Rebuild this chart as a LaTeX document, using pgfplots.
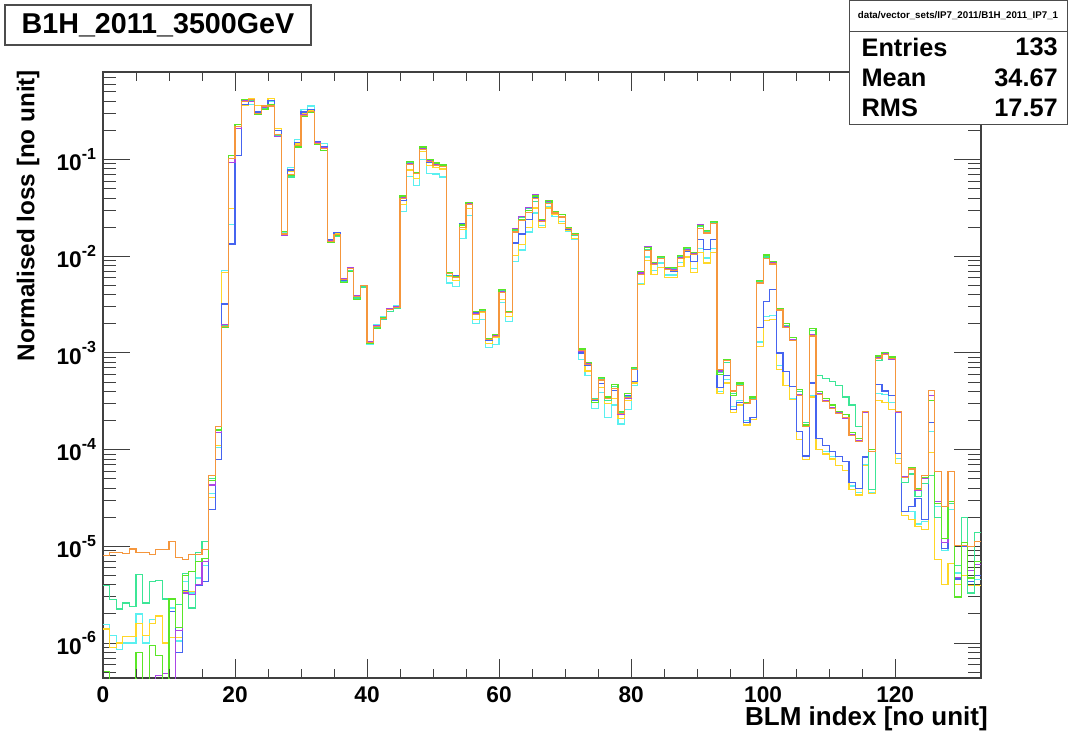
\documentclass[border=0pt]{standalone}
\usepackage{fontspec}
\setmainfont{Liberation Sans}
\usepackage{pgfplots}
\usepackage{pgfplotstable}
\pgfplotsset{compat=1.18}

\definecolor{cO}{RGB}{245,150,60}
\definecolor{cB}{RGB}{70,100,240}
\definecolor{cC}{RGB}{90,240,240}
\definecolor{cY}{RGB}{255,215,40}
\definecolor{cS}{RGB}{60,230,150}
\definecolor{cG}{RGB}{90,230,40}
\definecolor{cP}{RGB}{170,70,230}

\newcommand{\tl}[1]{10\raisebox{0.5em}{\fontsize{12}{12}\selectfont\bfseries #1}}

\pgfplotstableread{
x O B C Y S G P
0 8.1e-6 3e-7 1.57e-6 1.4e-6 3.9e-6 5.1e-7 3e-7
1 8.6e-6 3e-7 1.2e-6 9e-7 2.8e-6 3e-7 3e-7
2 8.6e-6 3e-7 8.6e-7 1.0e-6 2.25e-6 3e-7 3e-7
3 8.5e-6 3e-7 1.0e-6 1.16e-6 2.6e-6 3e-7 3e-7
4 9.4e-6 3e-7 1.0e-6 1.16e-6 2.4e-6 3e-7 3e-7
5 8.7e-6 3e-7 2.0e-6 1.6e-6 5.1e-6 8e-7 3e-7
6 8.7e-6 3e-7 1.0e-6 1.2e-6 2.6e-6 3e-7 3e-7
7 8.3e-6 3e-7 1.75e-6 1.6e-6 4.3e-6 9.5e-7 3e-7
8 9.3e-6 3e-7 1.9e-6 1.9e-6 4.4e-6 7.5e-7 4.6e-7
9 9.3e-6 3e-7 1.0e-6 1.0e-6 2.85e-6 3e-7 4.8e-7
10 1.13e-5 2.1e-6 2.3e-6 1.15e-6 2.85e-6 2.85e-6 3e-7
11 7.7e-6 8e-7 1.05e-6 1.15e-6 2.5e-6 1.45e-6 1.35e-6
12 7.3e-6 3.5e-6 4.3e-6 3.4e-6 5.2e-6 5.0e-6 3.3e-6
13 8.2e-6 3.2e-6 3.3e-6 3.4e-6 2.3e-6 5.5e-6 3.2e-6
14 8.2e-6 3.9e-6 4.7e-6 4.0e-6 8.7e-6 7.0e-6 4.0e-6
15 9.3e-6 4.3e-6 6.3e-6 4.3e-6 1.13e-5 7.5e-6 7.0e-6
16 5.4e-5 2.4e-5 3.5e-5 3.2e-5 5.0e-5 4.8e-5 4.3e-5
17 1.73e-4 7.9e-5 1.05e-4 1.1e-4 1.6e-4 1.6e-4 1.5e-4
18 1.87e-3 3.2e-3 7.1e-3 6.8e-3 1.9e-3 1.85e-3 1.95e-3
19 0.102 0.0134 0.0213 0.031 0.11 0.11 0.093
20 0.22 0.11 0.11 0.11 0.22 0.23 0.21
21 0.40 0.37 0.36 0.36 0.41 0.42 0.41
22 0.42 0.40 0.37 0.43 0.41 0.42 0.40
23 0.30 0.31 0.29 0.36 0.30 0.29 0.295
24 0.357 0.36 0.35 0.36 0.34 0.33 0.35
25 0.357 0.41 0.40 0.43 0.36 0.37 0.365
26 0.18 0.2 0.2 0.21 0.175 0.18 0.172
27 0.017 0.0165 0.0175 0.017 0.0172 0.018 0.0165
28 0.07 0.078 0.082 0.075 0.066 0.068 0.069
29 0.139 0.15 0.16 0.145 0.133 0.135 0.137
30 0.288 0.31 0.33 0.30 0.29 0.28 0.29
31 0.313 0.33 0.357 0.32 0.31 0.305 0.315
32 0.147 0.155 0.15 0.15 0.142 0.142 0.15
33 0.13 0.135 0.147 0.135 0.125 0.125 0.132
34 0.0142 0.0150 0.0145 0.0145 0.0138 0.0138 0.0145
35 0.0167 0.0175 0.0172 0.017 0.0162 0.0163 0.0165
36 5.8e-3 5.6e-3 5.9e-3 5.9e-3 5.5e-3 5.4e-3 5.9e-3
37 7.5e-3 7.6e-3 7.0e-3 7.4e-3 7.1e-3 7.0e-3 7.6e-3
38 3.85e-3 3.6e-3 3.6e-3 3.8e-3 3.7e-3 3.6e-3 3.9e-3
39 4.97e-3 4.97e-3 5.0e-3 4.9e-3 4.8e-3 5.0e-3 5.0e-3
40 1.29e-3 1.26e-3 1.22e-3 1.3e-3 1.27e-3 1.25e-3 1.3e-3
41 1.87e-3 1.9e-3 1.95e-3 1.85e-3 1.83e-3 1.8e-3 1.9e-3
42 2.28e-3 2.3e-3 2.4e-3 2.3e-3 2.2e-3 2.3e-3 2.3e-3
43 2.8e-3 2.85e-3 2.9e-3 2.8e-3 2.7e-3 2.8e-3 2.85e-3
44 2.96e-3 3.0e-3 3.1e-3 3.0e-3 2.9e-3 2.95e-3 3.0e-3
45 0.0394 0.038 0.029 0.034 0.041 0.042 0.040
46 0.0887 0.09 0.067 0.078 0.093 0.095 0.09
47 0.0716 0.072 0.054 0.064 0.074 0.074 0.073
48 0.128 0.13 0.10 0.12 0.135 0.135 0.13
49 0.096 0.094 0.072 0.087 0.10 0.10 0.097
50 0.087 0.088 0.071 0.082 0.09 0.092 0.088
51 0.084 0.087 0.066 0.08 0.086 0.088 0.085
52 6.6e-3 6.8e-3 5.3e-3 6.2e-3 6.3e-3 6.7e-3 6.7e-3
53 6.0e-3 6.3e-3 4.9e-3 5.6e-3 6.2e-3 6.1e-3 6.1e-3
54 0.02 0.022 0.0152 0.019 0.021 0.021 0.020
55 0.034 0.036 0.0265 0.031 0.035 0.036 0.035
56 2.5e-3 2.6e-3 2.0e-3 2.2e-3 2.5e-3 2.7e-3 2.55e-3
57 2.69e-3 2.8e-3 2.2e-3 2.6e-3 2.75e-3 2.8e-3 2.7e-3
58 1.37e-3 1.35e-3 1.14e-3 1.25e-3 1.4e-3 1.42e-3 1.38e-3
59 1.48e-3 1.55e-3 1.22e-3 1.45e-3 1.5e-3 1.55e-3 1.5e-3
60 4.24e-3 4.4e-3 3.3e-3 3.6e-3 4.4e-3 4.5e-3 4.3e-3
61 2.6e-3 2.7e-3 2.1e-3 2.4e-3 2.65e-3 2.7e-3 2.65e-3
62 0.0178 0.0137 8.9e-3 0.0102 0.0185 0.019 0.0195
63 0.0234 0.017 0.0116 0.0132 0.025 0.024 0.026
64 0.0286 0.024 0.0178 0.0197 0.031 0.03 0.032
65 0.0394 0.04 0.028 0.0316 0.037 0.042 0.043
66 0.0229 0.023 0.0208 0.02 0.024 0.024 0.0235
67 0.035 0.036 0.0323 0.0316 0.036 0.038 0.037
68 0.028 0.029 0.0256 0.027 0.029 0.029 0.029
69 0.0255 0.026 0.023 0.022 0.026 0.027 0.026
70 0.0192 0.019 0.018 0.0185 0.0195 0.020 0.0198
71 0.0167 0.0168 0.015 0.0152 0.0165 0.0172 0.0168
72 1.05e-3 1.0e-3 8.5e-4 1.0e-3 1.08e-3 1.1e-3 1.04e-3
73 7.66e-4 7.4e-4 5.9e-4 6.5e-4 7.8e-4 8.0e-4 7.7e-4
74 3.3e-4 3.2e-4 2.65e-4 3.3e-4 3.4e-4 3.1e-4 3.3e-4
75 5.26e-4 4.8e-4 3.9e-4 4.4e-4 5.4e-4 5.6e-4 5.2e-4
76 3.4e-4 3.5e-4 2.14e-4 3.0e-4 3.2e-4 3.5e-4 3.4e-4
77 4.3e-4 4.1e-4 2.9e-4 3.4e-4 4.5e-4 4.7e-4 4.3e-4
78 2.35e-4 2.3e-4 1.84e-4 2.1e-4 2.4e-4 2.5e-4 2.3e-4
79 3.45e-4 3.6e-4 2.6e-4 3.2e-4 3.5e-4 3.8e-4 3.4e-4
80 6.8e-4 5.1e-4 4.6e-4 4.9e-4 7.0e-4 7.1e-4 6.8e-4
81 6.5e-3 6.6e-3 5.2e-3 5.1e-3 6.8e-3 6.9e-3 6.7e-3
82 0.0114 0.0118 9.8e-3 9.0e-3 0.0118 0.0124 0.0125
83 8.2e-3 8.5e-3 7.1e-3 6.5e-3 8.6e-3 8.6e-3 8.4e-3
84 9.4e-3 9.6e-3 8.5e-3 7.7e-3 9.8e-3 0.01 9.9e-3
85 7.3e-3 7.5e-3 6.4e-3 6.0e-3 7.6e-3 7.7e-3 7.5e-3
86 7.1e-3 7.0e-3 6.4e-3 6.0e-3 7.4e-3 7.6e-3 7.3e-3
87 9.5e-3 9.6e-3 8.6e-3 7.8e-3 9.9e-3 0.0102 9.7e-3
88 0.0115 0.0113 0.0100 9.8e-3 0.012 0.0123 0.0118
89 0.0104 8.9e-3 7.4e-3 6.8e-3 0.0108 0.011 0.0108
90 0.0195 0.0148 0.0121 0.011 0.0205 0.0208 0.021
91 0.0174 0.0117 9.6e-3 8.5e-3 0.018 0.0185 0.0183
92 0.0217 0.0148 0.0121 0.0109 0.0225 0.023 0.0228
93 6.8e-4 4.4e-4 4.0e-4 3.8e-4 6.3e-4 6.0e-4 6.5e-4
94 8.3e-4 5.8e-4 5.3e-4 4.9e-4 8.0e-4 8.6e-4 8.5e-4
95 4.05e-4 2.6e-4 2.8e-4 2.4e-4 3.8e-4 3.6e-4 4.0e-4
96 4.6e-4 3.1e-4 3.2e-4 2.9e-4 4.7e-4 4.9e-4 4.6e-4
97 2.98e-4 1.9e-4 2.0e-4 1.8e-4 3.0e-4 3.1e-4 3.0e-4
98 3.27e-4 2.15e-4 2.05e-4 2.05e-4 3.4e-4 3.5e-4 3.3e-4
99 5.3e-3 1.84e-3 1.3e-3 1.17e-3 5.5e-3 5.6e-3 5.4e-3
100 9.5e-3 3.4e-3 2.4e-3 2.15e-3 9.8e-3 0.0103 0.0101
101 8.3e-3 4.5e-3 2.45e-3 2.2e-3 8.6e-3 8.9e-3 8.5e-3
102 2.78e-3 1.0e-3 7.4e-4 6.8e-4 2.9e-3 2.9e-3 2.8e-3
103 1.84e-3 6.4e-4 4.6e-4 4.6e-4 1.9e-3 2.0e-3 1.88e-3
104 1.34e-3 4.5e-4 3.4e-4 3.3e-4 1.38e-3 1.45e-3 1.36e-3
105 3.65e-4 1.55e-4 1.28e-4 1.27e-4 4.0e-4 4.2e-4 3.7e-4
106 1.75e-4 8.6e-5 7.9e-5 7.9e-5 1.9e-4 1.8e-4 1.78e-4
107 1.5e-3 4.9e-4 3.65e-4 3.5e-4 1.7e-3 1.8e-3 1.55e-3
108 3.7e-4 1.3e-4 1.0e-4 1.0e-4 5.8e-4 4.0e-4 3.8e-4
109 3.14e-4 1.1e-4 9.5e-5 9.0e-5 5.4e-4 3.4e-4 3.2e-4
110 2.67e-4 9.6e-5 8.5e-5 8.0e-5 5.1e-4 2.9e-4 2.7e-4
111 2.37e-4 8.5e-5 6.8e-5 6.8e-5 4.6e-4 2.5e-4 2.4e-4
112 2.14e-4 7.6e-5 6.1e-5 6.1e-5 3.5e-4 2.3e-4 2.1e-4
113 1.4e-4 4.6e-5 4.2e-5 3.9e-5 2.9e-4 1.5e-4 1.42e-4
114 1.22e-4 4.0e-5 3.6e-5 3.4e-5 1.75e-4 1.3e-4 1.23e-4
115 2.47e-4 8.4e-5 7.0e-5 6.8e-5 2.45e-4 2.5e-4 2.45e-4
116 9.5e-5 3.9e-5 3.6e-5 3.5e-5 3.9e-5 1.0e-4 9.6e-5
117 8.8e-4 4.75e-4 3.8e-4 3.2e-4 8.3e-4 9.3e-4 9.1e-4
118 9.7e-4 4.05e-4 3.75e-4 3.1e-4 9.7e-4 1.02e-3 1.0e-3
119 8.7e-4 3.6e-4 3.1e-4 2.6e-4 8.6e-4 9.1e-4 8.6e-4
120 2.47e-4 9.1e-5 8.1e-5 7.2e-5 2.4e-4 2.5e-4 2.4e-4
121 5.2e-5 2.3e-5 2.3e-5 2.1e-5 4.6e-5 5.2e-5 5.3e-5
122 6.3e-5 2.6e-5 2.3e-5 1.9e-5 5.6e-5 6.5e-5 6.2e-5
123 3.9e-5 3.1e-5 1.7e-5 1.6e-5 3.3e-5 4.0e-5 3.8e-5
124 5.4e-5 1.9e-5 1.8e-5 1.5e-5 4.5e-5 5.2e-5 5.1e-5
125 4.1e-4 1.9e-4 1.55e-4 9.3e-5 5.4e-5 3.2e-4 3.6e-4
126 5.9e-5 2.8e-5 2.6e-5 7.3e-6 2.0e-5 2.8e-5 2.9e-5
127 2.6e-5 9.5e-6 9.0e-6 4.0e-6 1.1e-5 1.2e-5 1.1e-5
128 5.9e-5 2.8e-5 2.4e-5 6.6e-6 2.8e-5 2.9e-5 2.9e-5
129 1.02e-5 4.6e-6 5.3e-6 4.0e-6 6.3e-6 3.0e-6 4.8e-6
130 1.03e-5 1.0e-5 1.1e-5 5.0e-6 2.0e-5 1.1e-5 1.1e-5
131 1.0e-5 4.3e-6 4.3e-6 3.9e-6 3.3e-6 4.7e-6 5.6e-6
132 1.13e-5 5.0e-6 4.5e-6 3.9e-6 1.4e-5 7.0e-6 6.5e-6
133 1.13e-5 5.0e-6 4.5e-6 3.9e-6 1.4e-5 7.0e-6 6.5e-6
}\data

\begin{document}
\begin{tikzpicture}
\useasboundingbox (0pt,0pt) rectangle (801pt,551.25pt);
\begin{axis}[
  at={(77.25pt,42.75pt)}, anchor=south west, scale only axis,
  width=658.5pt, height=454.5pt,
  xmin=0, xmax=133, ymode=log, ymin=4.35e-7, ymax=0.804,
  axis line style={line width=0.8pt, draw=black!75},
  tick align=inside, tick pos=both,
  xtick=\empty,
  ytick={1e-6,1e-5,1e-4,1e-3,1e-2,1e-1},
  yticklabels={\tl{-6},\tl{-5},\tl{-4},\tl{-3},\tl{-2},\tl{-1}},
  minor ytick={5e-7,6e-7,7e-7,8e-7,9e-7,
    2e-6,3e-6,4e-6,5e-6,6e-6,7e-6,8e-6,9e-6,
    2e-5,3e-5,4e-5,5e-5,6e-5,7e-5,8e-5,9e-5,
    2e-4,3e-4,4e-4,5e-4,6e-4,7e-4,8e-4,9e-4,
    2e-3,3e-3,4e-3,5e-3,6e-3,7e-3,8e-3,9e-3,
    2e-2,3e-2,4e-2,5e-2,6e-2,7e-2,8e-2,9e-2,
    2e-1,3e-1,4e-1,5e-1,6e-1,7e-1},
  major tick length=20pt, minor tick length=10pt,
  every tick/.style={black!75, line width=0.7pt},
  yticklabel style={font=\fontsize{17}{17}\selectfont\bfseries, anchor=east, inner sep=0pt, xshift=-5pt},
  every axis plot/.append style={const plot mark left, no marks, line width=0.9pt},
]
\addplot[cC] table[x=x,y=C] {\data};
\addplot[cY] table[x=x,y=Y] {\data};
\addplot[cB] table[x=x,y=B] {\data};
\addplot[cS] table[x=x,y=S] {\data};
\addplot[cP] table[x=x,y=P] {\data};
\addplot[cG] table[x=x,y=G] {\data};
\addplot[cO] table[x=x,y=O] {\data};
\end{axis}
\begin{axis}[
  at={(77.25pt,42.75pt)}, anchor=south west, scale only axis,
  width=658.5pt, height=454.5pt,
  xmin=0, xmax=133, ymin=0, ymax=1,
  axis line style={draw=none},
  ytick=\empty,
  xtick={0,20,40,60,80,100,120}, minor x tick num=3,
  xticklabels={0,20,40,60,80,100,120},
  tick align=inside, tick pos=both,
  major tick length=14pt, minor tick length=7pt,
  every tick/.style={black!75, line width=0.7pt},
  xticklabel style={font=\fontsize{17}{17}\selectfont\bfseries, inner sep=0pt, yshift=-6pt},
]
\end{axis}
\node[anchor=east, inner sep=0pt, font=\fontsize{19.5}{20}\selectfont\bfseries] at (741pt,12pt) {BLM index [no unit]};
\node[rotate=90, anchor=east, inner sep=0pt, font=\fontsize{18.2}{19}\selectfont\bfseries] at (21pt,499pt) {Normalised loss [no unit]};
\draw[line width=0.8pt, black!70, fill=white] (3.75pt,517.5pt) rectangle (233.25pt,547.5pt);
\node[font=\fontsize{21.5}{24}\selectfont\bfseries] at (118.5pt,532.5pt) {B1H\_2011\_3500GeV};
\draw[line width=0.8pt, black!70, fill=white] (637pt,458pt) rectangle (800.6pt,550.9pt);
\draw[line width=0.6pt, black!70] (637pt,528pt) -- (800.6pt,528pt);
\node[font=\fontsize{7.3}{8}\selectfont\bfseries] at (718.5pt,539.5pt) {data/vector\_sets/IP7\_2011/B1H\_2011\_IP7\_1};
\node[anchor=west, inner sep=0pt, font=\fontsize{19}{20}\selectfont\bfseries] at (646pt,516pt) {Entries};
\node[anchor=east, inner sep=0pt, font=\fontsize{19}{20}\selectfont\bfseries] at (793.5pt,516pt) {133};
\node[anchor=west, inner sep=0pt, font=\fontsize{19}{20}\selectfont\bfseries] at (646pt,492.75pt) {Mean};
\node[anchor=east, inner sep=0pt, font=\fontsize{19}{20}\selectfont\bfseries] at (793.5pt,492.75pt) {34.67};
\node[anchor=west, inner sep=0pt, font=\fontsize{19}{20}\selectfont\bfseries] at (646pt,470.25pt) {RMS};
\node[anchor=east, inner sep=0pt, font=\fontsize{19}{20}\selectfont\bfseries] at (793.5pt,470.25pt) {17.57};
\end{tikzpicture}
\end{document}
